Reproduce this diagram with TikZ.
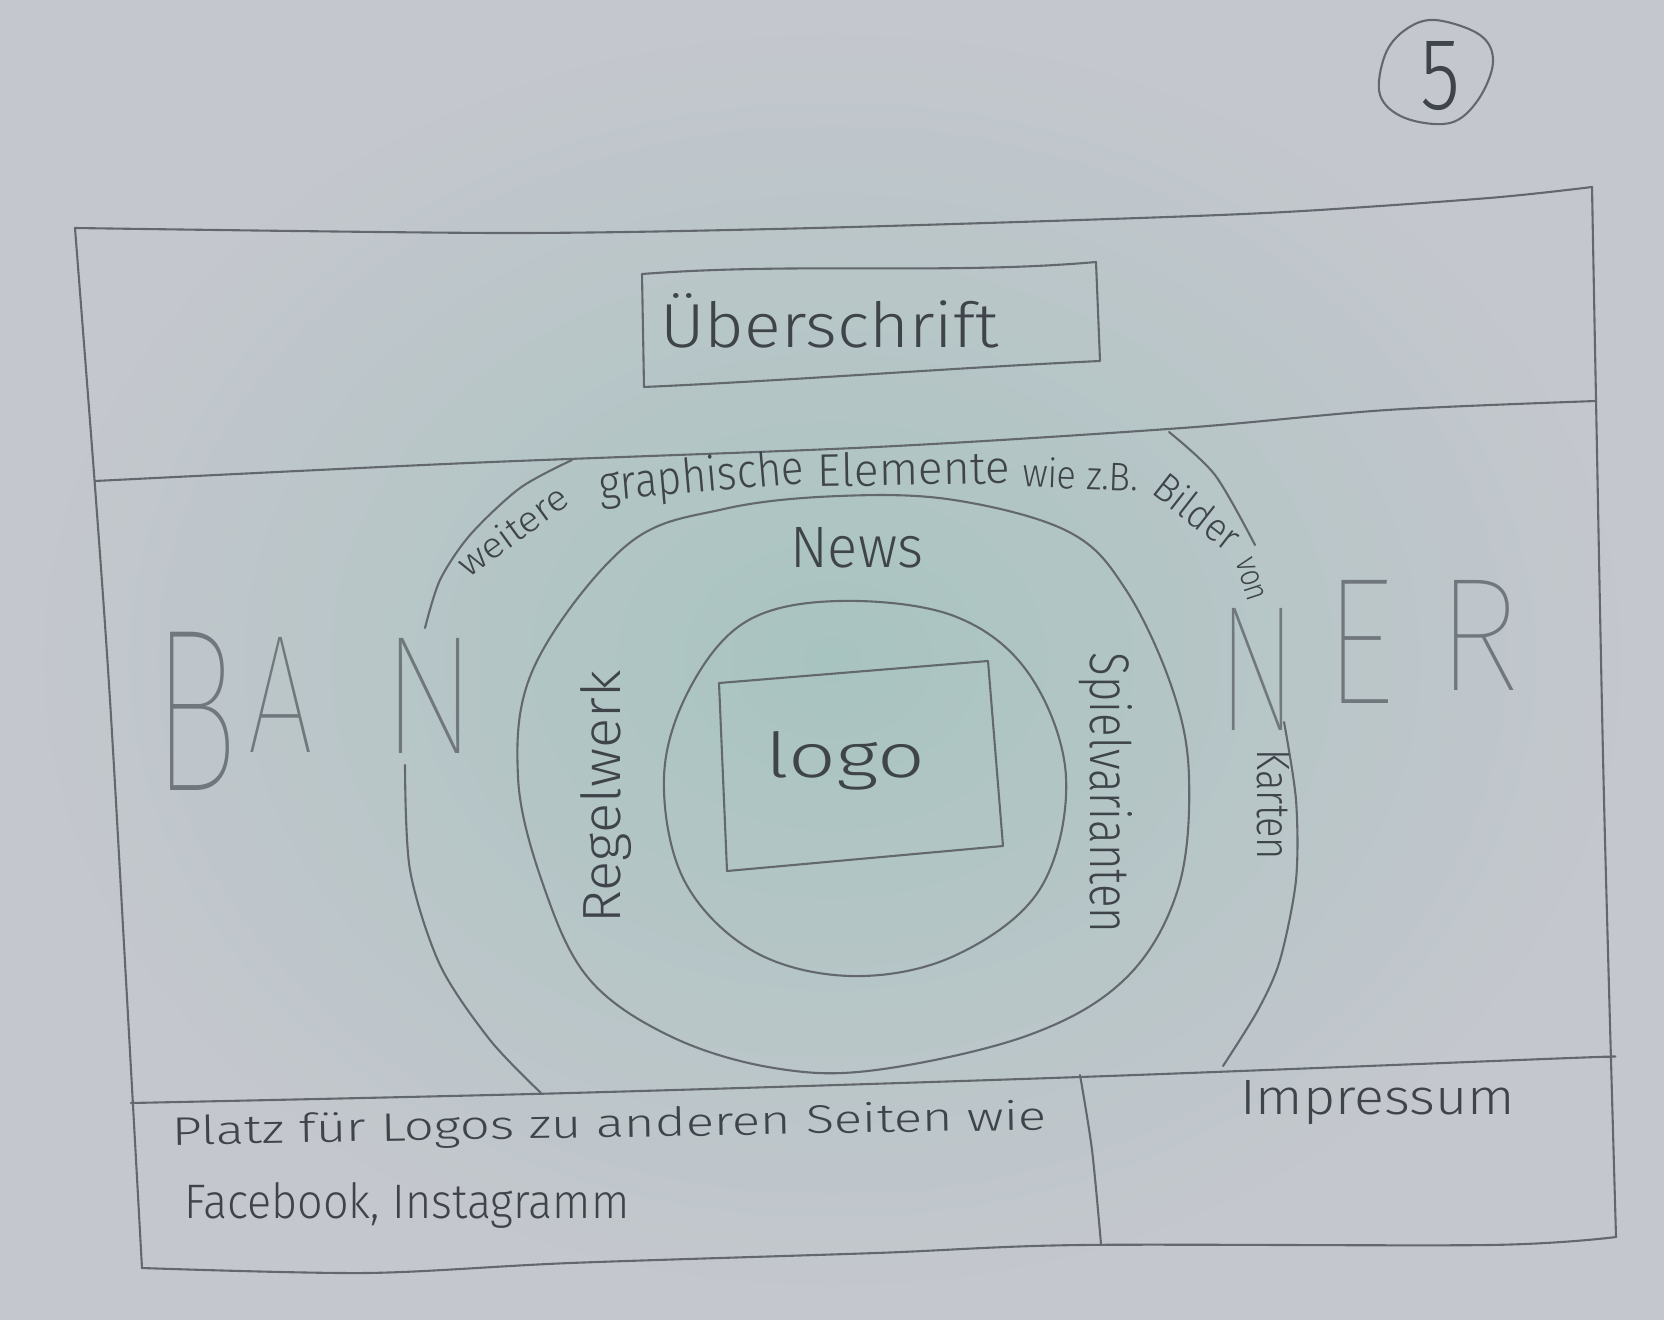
\documentclass[tikz,border=0pt]{standalone}
\usepackage{fontspec}
\usepackage{graphicx}
\IfFontExistsTF{Fira Sans Light}{\newfontfamily\hwfont{Fira Sans Light}}{\newfontfamily\hwfont{Liberation Sans}}
\IfFontExistsTF{Fira Sans Thin}{\newfontfamily\thinfont{Fira Sans Thin}}{\IfFontExistsTF{Fira Sans Light}{\newfontfamily\thinfont{Fira Sans Light}}{\newfontfamily\thinfont{Liberation Sans}}}
\definecolor{paper}{RGB}{197,199,206}
\definecolor{papermid}{RGB}{168,196,192}
\definecolor{pencil}{RGB}{98,104,110}
\definecolor{pencilt}{RGB}{62,68,74}
\definecolor{faint}{RGB}{112,120,126}
\begin{document}
\begin{tikzpicture}[x=1pt,y=-1pt,
  pen/.style={draw=pencil, line width=2.1pt, line cap=round, line join=round},
  hw/.style={text=pencilt, inner sep=0pt, font=\hwfont},
  arcw/.style={hw, anchor=base},
  big/.style={text=faint, inner sep=0pt, font=\thinfont, anchor=base west}]
\useasboundingbox (0,0) rectangle (1664,1319);
\shade[inner color=papermid, outer color=paper] (0,0) rectangle (1664,1319);

% outer frame
\draw[pen] plot[smooth, tension=0.5] coordinates {(75,228) (500,233) (774,229) (1080,220) (1285,212) (1489,198) (1592,187)};
\draw[pen] plot[smooth, tension=0.5] coordinates {(1592,187) (1596,400) (1604,800) (1616,1237)};
\draw[pen] plot[smooth, tension=0.5] coordinates {(1616,1237) (1489,1245) (1080,1245) (876,1253) (570,1263) (366,1273) (142,1268)};
\draw[pen] plot[smooth, tension=0.5] coordinates {(142,1268) (126,980) (110,700) (96,500) (75,228)};

% header line
\draw[pen] plot[smooth, tension=0.5] coordinates {(95,481) (468,463) (876,447) (1182,428) (1387,410) (1596,401)};

% heading box
\draw[pen] (642,274) .. controls (800,262) and (950,275) .. (1096,262) -- (1100,361) .. controls (950,368) and (800,380) .. (644,387) -- cycle;
\node[hw, anchor=base west] (ueber) at (660,347) {\resizebox{338pt}{54pt}{Überschrift}};

% footer
\draw[pen] plot[smooth, tension=0.5] coordinates {(131,1103) (570,1093) (1080,1077) (1570,1058) (1606,1057)};
\draw[pen] plot[smooth, tension=0.5] coordinates {(1080,1075) (1092,1150) (1101,1244)};
\node[hw, anchor=base west, rotate=1] (platzA) at (172,1145) {\resizebox{875pt}{30pt}{Platz für Logos zu anderen Seiten wie}};
\node[hw, anchor=base west] (platzB) at (184,1218) {\resizebox{445pt}{36pt}{Facebook, Instagramm}};
\node[hw, anchor=base west] (impr) at (1240,1114) {\resizebox{275pt}{34pt}{Impressum}};

% circled number
\draw[pen] plot[smooth cycle, tension=0.6] coordinates {(1435,20) (1480,35) (1493,62) (1478,100) (1450,123) (1405,118) (1380,95) (1385,55) (1405,30)};
\node[hw, anchor=base west] (five) at (1420,110) {\resizebox{40pt}{68pt}{5}};

% banner letters
\node[big] (bB) at (152,790) {\resizebox{86pt}{158pt}{B}};
\node[big] (bA) at (247,752) {\resizebox{66pt}{115pt}{A}};
\node[big] (bN) at (381,753) {\resizebox{96pt}{115pt}{N}};
\node[big] (bN2) at (1217,730) {\resizebox{80pt}{122pt}{N}};
\node[big] (bE) at (1324,703) {\resizebox{70pt}{123pt}{E}};
\node[big] (bR) at (1436,690) {\resizebox{84pt}{110pt}{R}};

% outer ring (open) and its caption
\draw[pen] plot[smooth] coordinates {(572,460) (520,488) (470,535) (440,580) (425,628)};
\draw[pen] plot[smooth] coordinates {(405,765) (410,870) (440,965) (490,1040) (541,1093)};
\draw[pen] plot[smooth] coordinates {(1169,432) (1215,475) (1255,545)};
\draw[pen] plot[smooth] coordinates {(1284,722) (1296,800) (1296,880) (1280,960) (1258,1010) (1223,1066)};
\node[arcw, rotate=36] (wA) at (520,541) {\resizebox{128pt}{27pt}{weitere}};
\node[arcw, rotate=5] (wB) at (703,492) {\resizebox{205pt}{36pt}{graphische}};
\node[arcw, rotate=1] (wC) at (914,485) {\resizebox{192pt}{34pt}{Elemente}};
\node[arcw, rotate=-2] (wD) at (1080,489) {\resizebox{116pt}{30pt}{wie z.B.}};
\node[arcw, rotate=-38] (wE) at (1189,523) {\resizebox{98pt}{30pt}{Bilder}};
\node[arcw, rotate=-72] (wF) at (1242,582) {\resizebox{44pt}{18pt}{von}};
\node[hw, anchor=base, rotate=-90] (karten) at (1257,805) {\resizebox{110pt}{32pt}{Karten}};

% middle ring
\draw[pen] plot[smooth cycle, tension=0.6] coordinates {(839,496) (954,500) (1069,532) (1126,590) (1172,688) (1189,777) (1178,889) (1126,978) (1029,1035) (876,1070) (774,1068) (672,1037) (590,980) (545,890) (518,777) (535,665) (627,545) (724,509)};
\node[hw, anchor=base west] (news) at (790,567) {\resizebox{133pt}{40pt}{News}};
\node[hw, anchor=base, rotate=90] (regel) at (620,797) {\resizebox{253pt}{40pt}{Regelwerk}};
\node[hw, anchor=base, rotate=-90] (spiel) at (1090,793) {\resizebox{280pt}{42pt}{Spielvarianten}};

% inner circle
\draw[pen] plot[smooth cycle, tension=0.6] coordinates {(839,601) (954,616) (1029,674) (1066,777) (1040,889) (954,956) (851,976) (753,951) (684,880) (664,777) (690,688) (747,621)};

% logo box
\draw[pen] (719,683) -- (988,661) -- (1003,846) -- (727,871) -- cycle;
\node[hw, anchor=base west] (logo) at (765,777) {\resizebox{160pt}{46pt}{logo}};
\end{tikzpicture}
\end{document}
